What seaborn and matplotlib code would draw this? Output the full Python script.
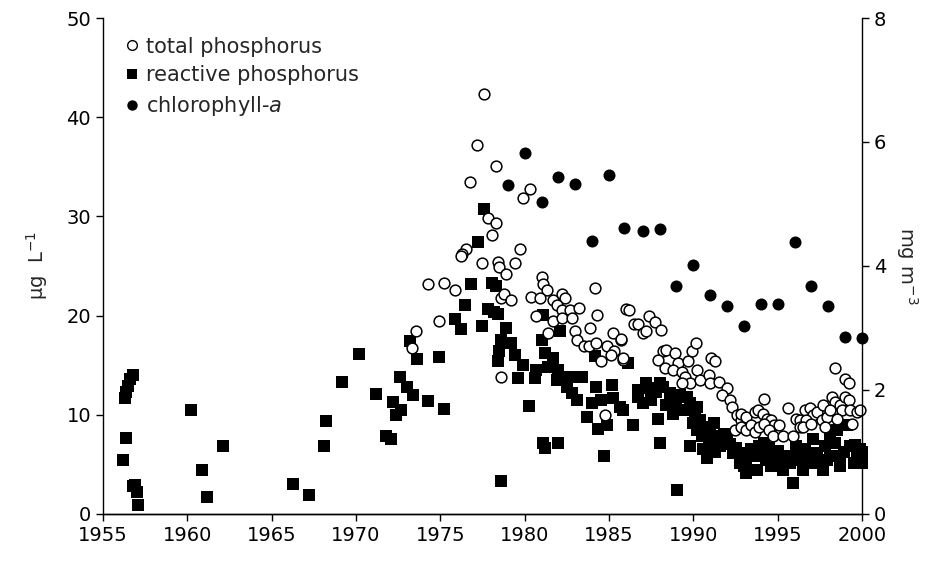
import numpy as np
import pandas as pd
import matplotlib
matplotlib.use("Agg")
import matplotlib.pyplot as plt
import seaborn as sns
from matplotlib.lines import Line2D

# chlorophyll-a, mg m-3 (right axis), one value per year
chl_year = [1979.0, 1980.0, 1981.0, 1982.0, 1983.0, 1984.0, 1985.0, 1985.9, 1987.0, 1988.0, 1989.0,
            1990.0, 1991.0, 1992.0, 1993.0, 1994.0, 1995.0, 1996.0, 1997.0, 1998.0, 1999.0, 2000.0]
chl_val = [5.31, 5.82, 5.03, 5.43, 5.33, 4.40, 5.46, 4.62, 4.56, 4.60, 3.67,
           4.01, 3.53, 3.36, 3.03, 3.38, 3.39, 4.39, 3.68, 3.36, 2.86, 2.84]

# reactive phosphorus, ug L-1 (left axis)
srp_year_1956 = [1956.2, 1956.4, 1956.3, 1956.4, 1956.5, 1956.6, 1956.8, 1956.8, 1956.9, 1957.0, 1957.1,
                 1960.2, 1960.85, 1961.15, 1962.15]
srp_val_1956 = [5.4, 7.6, 11.7, 12.3, 12.9, 13.6, 14.0, 2.8, 2.9, 2.2, 0.9,
                10.5, 4.4, 1.7, 6.8]
srp_year_1966 = [1966.3, 1967.2, 1968.1, 1968.2, 1969.2, 1970.2, 1971.2, 1971.8, 1972.1, 1972.2,
                 1972.6, 1973.0, 1973.4, 1972.7, 1972.4, 1974.25, 1975.2, 1973.6, 1974.9, 1973.2,
                 1975.9, 1976.25, 1976.45, 1976.8]
srp_val_1966 = [3.0, 1.9, 6.8, 9.4, 13.3, 16.1, 12.1, 7.8, 7.5, 11.3,
                13.8, 12.8, 12.0, 10.5, 10.0, 11.4, 10.6, 15.6, 15.8, 17.4,
                19.6, 18.6, 21.1, 23.2]
srp_year_1977 = [1977.25, 1977.6, 1977.5, 1977.85, 1978.05, 1978.3, 1978.2, 1978.45, 1978.9, 1978.6,
                 1978.5, 1978.4, 1978.6, 1979.2, 1979.4, 1979.9, 1979.6, 1980.25, 1980.7, 1980.6]
srp_val_1977 = [27.4, 30.7, 18.9, 20.7, 23.3, 23.0, 20.4, 20.2, 18.7, 17.5,
                16.4, 15.4, 3.3, 17.2, 16.0, 15.0, 13.7, 10.9, 14.5, 13.7]
srp_year_1981 = [1981.0, 1981.1, 1982.1, 1981.2, 1981.7, 1981.4, 1982.0, 1982.2, 1982.5, 1982.8,
                 1983.1, 1983.4, 1981.9, 1982.7, 1981.1, 1981.2, 1982.0, 1984.7, 1983.7, 1984.35,
                 1984.9, 1984.25, 1984.0, 1984.55, 1985.15, 1985.25, 1985.65, 1984.15, 1986.15, 1985.85]
srp_val_1981 = [17.5, 20.1, 18.4, 16.2, 15.7, 14.8, 14.5, 13.5, 12.8, 12.2,
                11.5, 13.8, 13.5, 13.8, 7.1, 6.6, 7.1, 5.8, 9.8, 8.6,
                9.0, 12.8, 11.2, 11.5, 13.0, 11.7, 10.8, 15.9, 15.2, 10.5]
srp_year_1986 = [1986.4, 1987.9, 1988.0, 1989.05, 1986.7, 1987.0, 1987.4, 1987.8, 1988.2, 1988.6,
                 1988.9, 1989.2, 1988.8, 1989.4, 1989.8, 1990.1, 1990.4, 1989.8, 1990.6, 1990.8,
                 1990.5, 1991.0, 1991.4, 1991.6, 1992.0, 1992.35, 1992.75, 1986.7, 1987.2, 1988.0,
                 1989.6, 1990.2, 1990.2, 1987.5, 1988.4, 1989.0, 1990.0, 1990.7, 1991.2, 1991.8,
                 1992.2, 1992.5, 1991.3, 1990.9]
srp_val_1986 = [9.0, 9.6, 7.1, 2.4, 11.8, 11.2, 12.7, 12.3, 12.8, 12.2,
                11.5, 12.0, 10.1, 10.5, 11.2, 10.1, 9.5, 6.8, 6.5, 5.6,
                7.8, 8.5, 7.8, 6.8, 7.5, 6.1, 5.1, 12.5, 13.2, 13.2,
                11.8, 10.8, 8.5, 11.5, 11.0, 10.8, 9.2, 8.8, 9.2, 8.0,
                7.0, 6.6, 6.2, 7.2]
srp_year_1993 = [1992.75, 1993.15, 1993.15, 1993.5, 1993.75, 1993.9, 1994.2, 1994.3, 1994.6, 1994.7,
                 1994.9, 1995.2, 1995.5, 1995.7, 1995.9, 1996.1, 1996.3, 1996.6, 1996.8, 1997.1,
                 1997.3, 1997.5, 1997.8, 1998.1, 1998.1, 1998.4, 1998.5, 1998.7, 1999.1, 1999.3,
                 1999.5, 1999.7, 1999.9, 2000.0, 1998.7, 1997.7, 1996.5, 1995.3, 1993.0, 1993.4,
                 1994.0, 1995.0, 1996.0, 1997.0, 1998.9, 1999.6, 2000.0, 1997.9, 1994.5]
srp_val_1993 = [6.1, 5.1, 4.1, 5.8, 4.4, 6.8, 7.1, 5.4, 4.8, 6.1,
                5.1, 5.4, 5.8, 5.1, 3.1, 6.8, 5.4, 6.5, 5.1, 7.5,
                6.1, 5.1, 6.8, 7.8, 5.8, 7.1, 8.5, 5.8, 9.0, 6.8,
                5.1, 5.8, 6.5, 5.1, 4.8, 4.4, 4.4, 4.4, 4.8, 6.5,
                5.8, 6.3, 5.8, 5.8, 6.2, 6.9, 6.2, 5.4, 6.6]

# total phosphorus, ug L-1 (left axis)
tp_year_1973 = [1973.55, 1973.35, 1974.9, 1974.3, 1975.2, 1975.9, 1978.6, 1977.6, 1977.2, 1978.3,
                1976.75, 1980.3, 1979.9, 1977.8, 1978.3, 1978.05, 1979.7, 1976.55, 1976.3, 1976.2,
                1977.5, 1978.4, 1978.5, 1978.9, 1979.4, 1978.6, 1978.8, 1979.2, 1980.4, 1980.7]
tp_val_1973 = [18.4, 16.7, 19.4, 23.2, 23.3, 22.6, 13.8, 42.3, 37.2, 35.1,
               33.5, 32.8, 31.9, 29.8, 29.3, 28.1, 26.7, 26.7, 26.2, 26.0,
               25.3, 25.4, 24.9, 24.2, 25.3, 21.8, 22.2, 21.6, 21.9, 19.9]
tp_year_1981 = [1981.0, 1981.1, 1981.3, 1980.9, 1981.7, 1982.2, 1982.4, 1981.9, 1982.2, 1982.7,
                1983.2, 1984.2, 1984.3, 1981.7, 1982.2, 1982.8, 1981.4, 1983.0, 1983.1, 1983.9,
                1983.5, 1983.8, 1984.25, 1984.55, 1984.9, 1985.3, 1985.25, 1985.7, 1985.1, 1985.85,
                1984.75, 1986.0]
tp_val_1981 = [23.9, 23.2, 22.6, 21.8, 21.6, 22.2, 21.8, 21.1, 20.6, 20.6,
               20.8, 22.75, 20.1, 19.4, 19.7, 19.7, 18.2, 18.4, 17.5, 18.7,
               16.9, 16.9, 17.2, 15.4, 16.9, 16.4, 18.2, 17.5, 16.0, 15.5,
               10.0, 20.7]
tp_year_1986 = [1986.2, 1986.5, 1986.7, 1987.0, 1987.2, 1987.4, 1987.7, 1988.1, 1985.7, 1985.85,
                1988.2, 1988.4, 1988.9, 1987.9, 1988.3, 1989.1, 1989.7, 1989.9, 1990.15, 1988.8,
                1989.3, 1989.5, 1989.8, 1990.2, 1990.4, 1990.9, 1991.05, 1991.3, 1991.0, 1991.5,
                1992.0, 1991.7, 1992.2, 1992.3, 1992.6, 1992.8, 1992.9, 1989.3, 1992.45]
tp_val_1986 = [20.6, 19.1, 19.1, 18.2, 18.4, 19.9, 19.3, 18.5, 17.6, 15.7,
               16.4, 16.5, 16.2, 15.5, 14.7, 15.2, 15.4, 16.4, 17.2, 14.5,
               14.3, 13.8, 13.2, 14.5, 13.5, 14.0, 15.7, 15.4, 13.2, 13.3,
               12.7, 12.0, 11.5, 10.8, 10.0, 9.5, 8.8, 13.2, 8.5]
tp_year_1993 = [1998.4, 1999.0, 1999.2, 1994.2, 1995.6, 1992.8, 1993.15, 1993.65, 1993.85, 1994.15,
                1994.35, 1994.6, 1994.8, 1995.1, 1992.8, 1993.1, 1993.4, 1993.65, 1993.9, 1994.2,
                1994.5, 1994.7, 1995.3, 1995.9, 1996.1, 1996.3, 1996.6, 1996.9, 1997.1, 1997.3,
                1997.6, 1997.9, 1998.2, 1998.4, 1998.7, 1999.0, 1999.2, 1998.8, 1999.3, 1999.7,
                1999.9, 1998.5, 1997.7, 1996.7, 1996.3, 1996.5, 1997.0, 1998.1, 1997.8, 1999.4]
tp_val_1993 = [14.7, 13.6, 13.2, 11.6, 10.7, 10.1, 9.8, 10.3, 10.5, 10.1,
               9.6, 9.5, 9.0, 9.0, 8.8, 8.5, 9.0, 8.3, 8.8, 9.1,
               8.5, 7.8, 7.8, 7.8, 9.6, 9.5, 10.5, 10.7, 10.0, 10.3,
               9.5, 9.8, 11.8, 11.3, 11.0, 11.8, 11.5, 10.5, 10.5, 10.3,
               10.5, 9.6, 11.0, 9.5, 8.8, 8.8, 9.1, 10.5, 8.8, 9.1]

srp = pd.DataFrame({
    "year": srp_year_1956 + srp_year_1966 + srp_year_1977 + srp_year_1981 + srp_year_1986 + srp_year_1993,
    "value": srp_val_1956 + srp_val_1966 + srp_val_1977 + srp_val_1981 + srp_val_1986 + srp_val_1993,
})
tp = pd.DataFrame({
    "year": tp_year_1973 + tp_year_1981 + tp_year_1986 + tp_year_1993,
    "value": tp_val_1973 + tp_val_1981 + tp_val_1986 + tp_val_1993,
})
chl = pd.DataFrame({"year": chl_year, "value": chl_val})

sns.set_style("ticks")
plt.rcParams["font.family"] = ["DejaVu Sans"]
plt.rcParams["mathtext.default"] = "regular"

fig, ax = plt.subplots(figsize=(9.35, 5.64), dpi=100)
fig.subplots_adjust(left=0.110, right=0.922, bottom=0.089, top=0.968)
ax2 = ax.twinx()

# squares first, open circles over them
sns.scatterplot(data=srp, x="year", y="value", marker="s", s=80, color="black",
                edgecolor="black", linewidth=0, ax=ax, clip_on=False, zorder=2)
sns.scatterplot(data=tp, x="year", y="value", marker="o", s=60, color="white",
                edgecolor="black", linewidth=1.1, ax=ax, clip_on=False, zorder=3)
sns.scatterplot(data=chl, x="year", y="value", marker="o", s=75, color="black",
                edgecolor="black", linewidth=0, ax=ax2, clip_on=False, zorder=3)

ax.set_xlim(1955, 2000)
ax.set_ylim(0, 50)
ax2.set_ylim(0, 8)
ax.set_xticks(range(1955, 2001, 5))
ax.set_yticks(range(0, 51, 10))
ax2.set_yticks(range(0, 9, 2))

ax.set_xlabel("")
ax.set_ylabel(r"µg  L$^{-1}$", fontsize=14, labelpad=12)
ax2.set_ylabel(r"mg m$^{-3}$", fontsize=14, rotation=270, labelpad=24)

for a in (ax, ax2):
    a.tick_params(direction="out", length=5, width=1, labelsize=14, colors="black")
    a.spines["top"].set_visible(False)
    for sp in a.spines.values():
        sp.set_linewidth(1.0)
        sp.set_color("black")
ax2.spines["left"].set_visible(False)
ax.spines["right"].set_visible(False)

handles = [
    Line2D([], [], ls="", marker="o", ms=7, mfc="white", mec="black", mew=1),
    Line2D([], [], ls="", marker="s", ms=7.5, mfc="black", mec="black", mew=0),
    Line2D([], [], ls="", marker="o", ms=7.5, mfc="black", mec="black", mew=0),
]
labels = ["total phosphorus", "reactive phosphorus", r"chlorophyll-$\it{a}$"]
ax2.legend(handles, labels, loc="upper left", bbox_to_anchor=(0.135, 0.935),
           bbox_transform=fig.transFigure, frameon=False, fontsize=15,
           handlelength=0.6, handletextpad=0.35, labelspacing=0.42, borderpad=0,
           borderaxespad=0)

fig.savefig("out.png", dpi=100)
